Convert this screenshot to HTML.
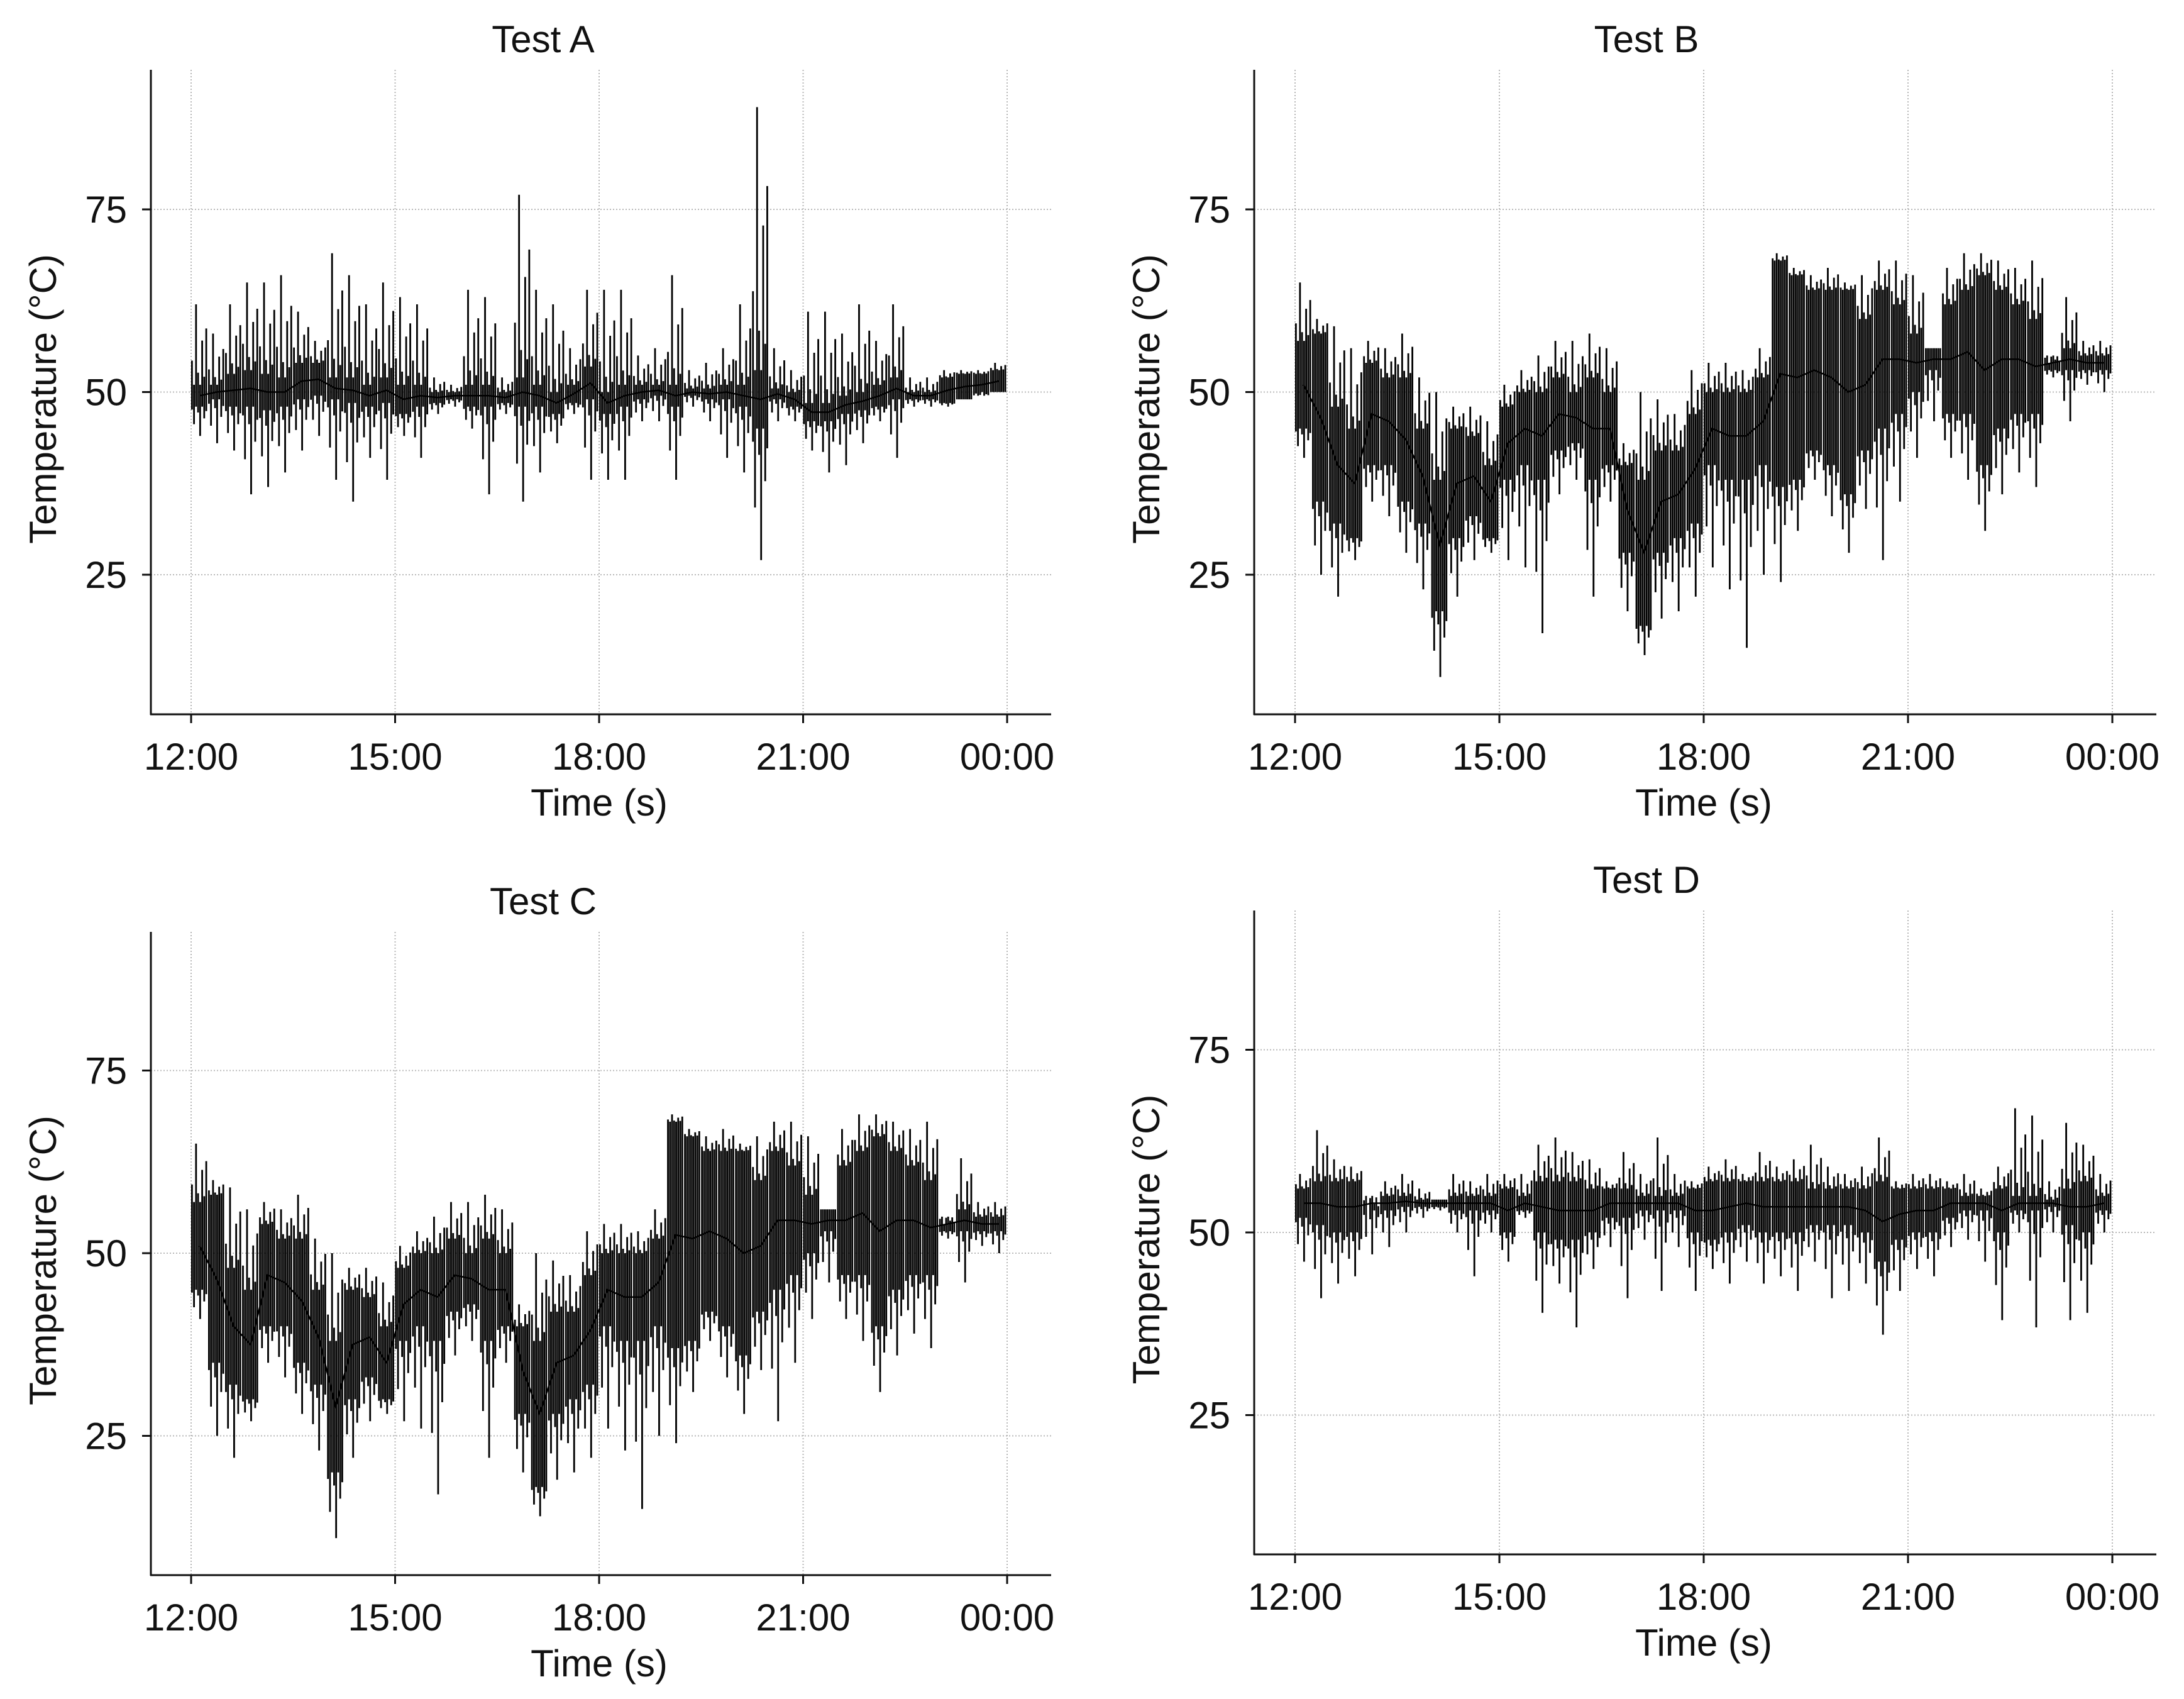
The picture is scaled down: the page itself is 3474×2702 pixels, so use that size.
<!DOCTYPE html>
<html><head><meta charset="utf-8"><style>
html,body{margin:0;padding:0;background:#fff}
svg text{font-family:"Liberation Sans",sans-serif;fill:#111}
</style></head><body>
<svg id="fig" width="3474" height="2697" viewBox="0 0 3474 2697" xmlns="http://www.w3.org/2000/svg">
<rect width="3474" height="2697" fill="#fff"/>
</svg>
<script>
// Shared axes data
const timeTicks = ["12:00","15:00","18:00","21:00","00:00"];
const tempTicks = [25,50,75];
// 48 bins of 15 min each (12:00 -> 00:00)
const aHi  = [62,58,62,65,65,66,61,57,69,66,62,65,63,62,52,51,64,63,52,77,64,62,56,64,64,64,55,56,66,53,54,56,62,89,56,53,61,61,58,62,57,62,52,52,53,53,53,54];
const aLo  = [44,43,42,36,37,39,42,44,38,35,41,38,44,41,47,48,45,36,47,35,39,43,47,38,38,38,46,46,38,48,46,41,39,27,46,46,42,39,40,43,46,41,48,48,48,49,50,50];
const aCoreLo = [48,49,48,48,47.5,48,49,49.5,49,48.5,48,48.5,47,48,48.5,49,48,48,48.5,48,48,47,48.5,49,47,48,49,49.5,48,49.5,49,49,48,45,49,48,46,46,47,47.5,48,49,49,49,48.5,49,49.5,50];
const aCoreHi = [51,51,52.5,53,52.5,52,54,54,52,52,51,52,51,51,50,50,51,51,50,52,51,50,51,53.5,50,51,51,51,51,50.5,50.5,51,51,53,50.5,50,48.5,48.5,49.5,50,51,52,50,50,52,52.5,52.5,53];
const bHi  = [65,60,59,56,57,56,58,52,50,48,48,46,51,53,55,57,57,58,56,43,50,49,47,53,54,54,53,56,69,67,66,67,65,66,68,68,66,56,67,69,69,68,67,68,54,63,57,57];
const bLo  = [41,25,22,27,35,33,28,23,11,22,27,28,27,26,17,36,38,22,35,20,14,19,20,22,26,23,15,25,24,31,38,33,28,34,27,35,41,46,41,38,31,36,39,37,52,46,51,50];
const bCoreLo = [45,35,32,30,40,40,35,32,20,30,33,30,38,40,38,42,43,38,40,28,18,28,30,32,40,38,38,40,37,38,42,40,36,42,45,47,50,53,47,47,40,45,47,47,53,53,53,53];
const bCoreHi = [57,58,48,45,54,52,52,45,38,45,44,40,48,50,50,52,50,52,50,40,38,42,42,47,50,50,50,52,68,66,64,64,64,60,64,62,58,56,62,64,66,64,62,60,55,56,55,55];
const dHi  = [58,64,60,59,53,57,58,56,54.5,58,57,58,58,58,62,63,61,60,57,61,58,63,58,57,59,60,58,61,59,60,62,59,58,59,63,57,58,58,57,58,56,59,67,66,57,65,62,58];
const dLo  = [46,41,43,44,47,48,50,52,53,50,44,50,46,52,39,43,37,45,48,41,49,42,48,42,45,43,46,43,44,42,46,41,42,43,36,42,45,44,48,49,46,38,50,37,50,38,39,50];
const dCoreLo = [52,51,50,50,53,53,53.5,53.5,53.5,53,53,53,50,53,50,49,49,50,52,52,53,53,53,50,49,50,51,50,50,50,51,51,51,50,46,49,50,50,52,53,53,50,53,53,53.5,51,50,53];
const dCoreHi = [56,57,57,57,55,55,55,54.5,54.5,55,55,55,56,55,57,57,57,56,56,56,55,55,55,56,57,57,57,57,57,57,56,56,56,56,57,56,56,56,56,55,55,56,55,55,54.5,56,57,55];

const NS="http://www.w3.org/2000/svg";
const svg=document.getElementById('fig');
function mk(tag,attrs,parent){const e=document.createElementNS(NS,tag);for(const k in attrs)e.setAttribute(k,attrs[k]);(parent||svg).appendChild(e);return e;}

const panels=[
 {id:'a',title:'Test A',left:240,x0:304,x1:1602,right:1672,yMid:623.5,axisY:1136,top:111,ylx:68,tx:864,hi:aHi,lo:aLo,cl:aCoreLo,ch:aCoreHi},
 {id:'b',title:'Test B',left:1995,x0:2060,x1:3360,right:3430,yMid:623.5,axisY:1136,top:111,ylx:1823,tx:2619,hi:bHi,lo:bLo,cl:bCoreLo,ch:bCoreHi},
 {id:'c',title:'Test C',left:240,x0:304,x1:1602,right:1672,yMid:1993,axisY:2505,top:1482,ylx:68,tx:864,hi:bHi,lo:bLo,cl:bCoreLo,ch:bCoreHi},
 {id:'d',title:'Test D',left:1995,x0:2060,x1:3360,right:3430,yMid:1960,axisY:2472,top:1448,ylx:1823,tx:2619,hi:dHi,lo:dLo,cl:dCoreLo,ch:dCoreHi}
];
const PXD=11.62;
const subOff=[0.05,0.17,0.29,0.41,0.53,0.65,0.77,0.89];
const subUp=[0.3,0,1,0.15,0,0.55,0.1,0.7];
const subDn=[0.1,0.6,0,0.2,1,0,0.4,0.15];
panels.forEach(p=>{
  const g=mk('g',{});
  
  
  const yS=v=>p.yMid-(v-50)*PXD;
  const xS=t=>p.x0+(p.x1-p.x0)*t/12;
  tempTicks.forEach(v=>{const l=mk('line',{x1:p.left,x2:p.right,y1:yS(v),y2:yS(v),stroke:'#b8b8b8','stroke-width':2,'stroke-dasharray':'2 3'},g);
    });
  timeTicks.forEach((t,i)=>{const l=mk('line',{x1:xS(i*3),x2:xS(i*3),y1:p.top,y2:p.axisY,stroke:'#b8b8b8','stroke-width':2,'stroke-dasharray':'2 3'},g);
    });
  const n=p.hi.length, bw=(p.x1-p.x0)/n;
  const s=mk('g',{},g);
  
  
  let pts=[];
  for(let i=0;i<n;i++){pts.push((p.x0+bw*(i+0.5)).toFixed(1)+','+yS((p.cl[i]+p.ch[i])/2).toFixed(1));}
  const pl=mk('polyline',{points:pts.join(' '),fill:'none',stroke:'#000','stroke-width':2.5},s);
  
  for(let i=0;i<n;i++){
    const xs=p.x0+bw*i;
    subOff.forEach((o,k)=>{
      const top=p.ch[i]+(p.hi[i]-p.ch[i])*subUp[k];
      const bot=p.cl[i]-(p.cl[i]-p.lo[i])*subDn[k];
      const l=mk('line',{x1:xs+o*bw,x2:xs+o*bw,y1:yS(top),y2:yS(bot),stroke:'#000','stroke-width':2.8},s);
      
    });
  }
  const sp1=mk('line',{x1:p.left,x2:p.left,y1:p.top,y2:p.axisY+1,stroke:'#111','stroke-width':3},g);
  
  const sp2=mk('line',{x1:p.left-1,x2:p.right,y1:p.axisY,y2:p.axisY,stroke:'#111','stroke-width':3},g);
  
  tempTicks.forEach(v=>{
    const l=mk('line',{x1:p.left-14,x2:p.left,y1:yS(v),y2:yS(v),stroke:'#111','stroke-width':3},g);
    
    const t=mk('text',{x:p.left-38,y:yS(v)+21,'text-anchor':'end','font-size':60},g);t.textContent=v;
    
  });
  timeTicks.forEach((lab,i)=>{
    const l=mk('line',{x1:xS(i*3),x2:xS(i*3),y1:p.axisY,y2:p.axisY+14,stroke:'#111','stroke-width':3},g);
    
    const t=mk('text',{x:xS(i*3),y:p.axisY+88,'text-anchor':'middle','font-size':60},g);t.textContent=lab;
    
  });
  const xl=mk('text',{x:(p.x0+p.x1)/2,y:p.axisY+161,'text-anchor':'middle','font-size':60},g);xl.textContent='Time (s)';
  
  const yc=(p.top+p.axisY)/2-10;
  const yl=mk('text',{x:p.ylx,y:yc,'text-anchor':'middle','font-size':60,transform:'rotate(-90 '+(p.ylx+21)+' '+yc+')'},g);yl.textContent='Temperature (°C)';
  
  const tt=mk('text',{x:p.tx,y:p.top-28,'text-anchor':'middle','font-size':60},g);tt.textContent=p.title;
  
});
</script>
</body></html>
